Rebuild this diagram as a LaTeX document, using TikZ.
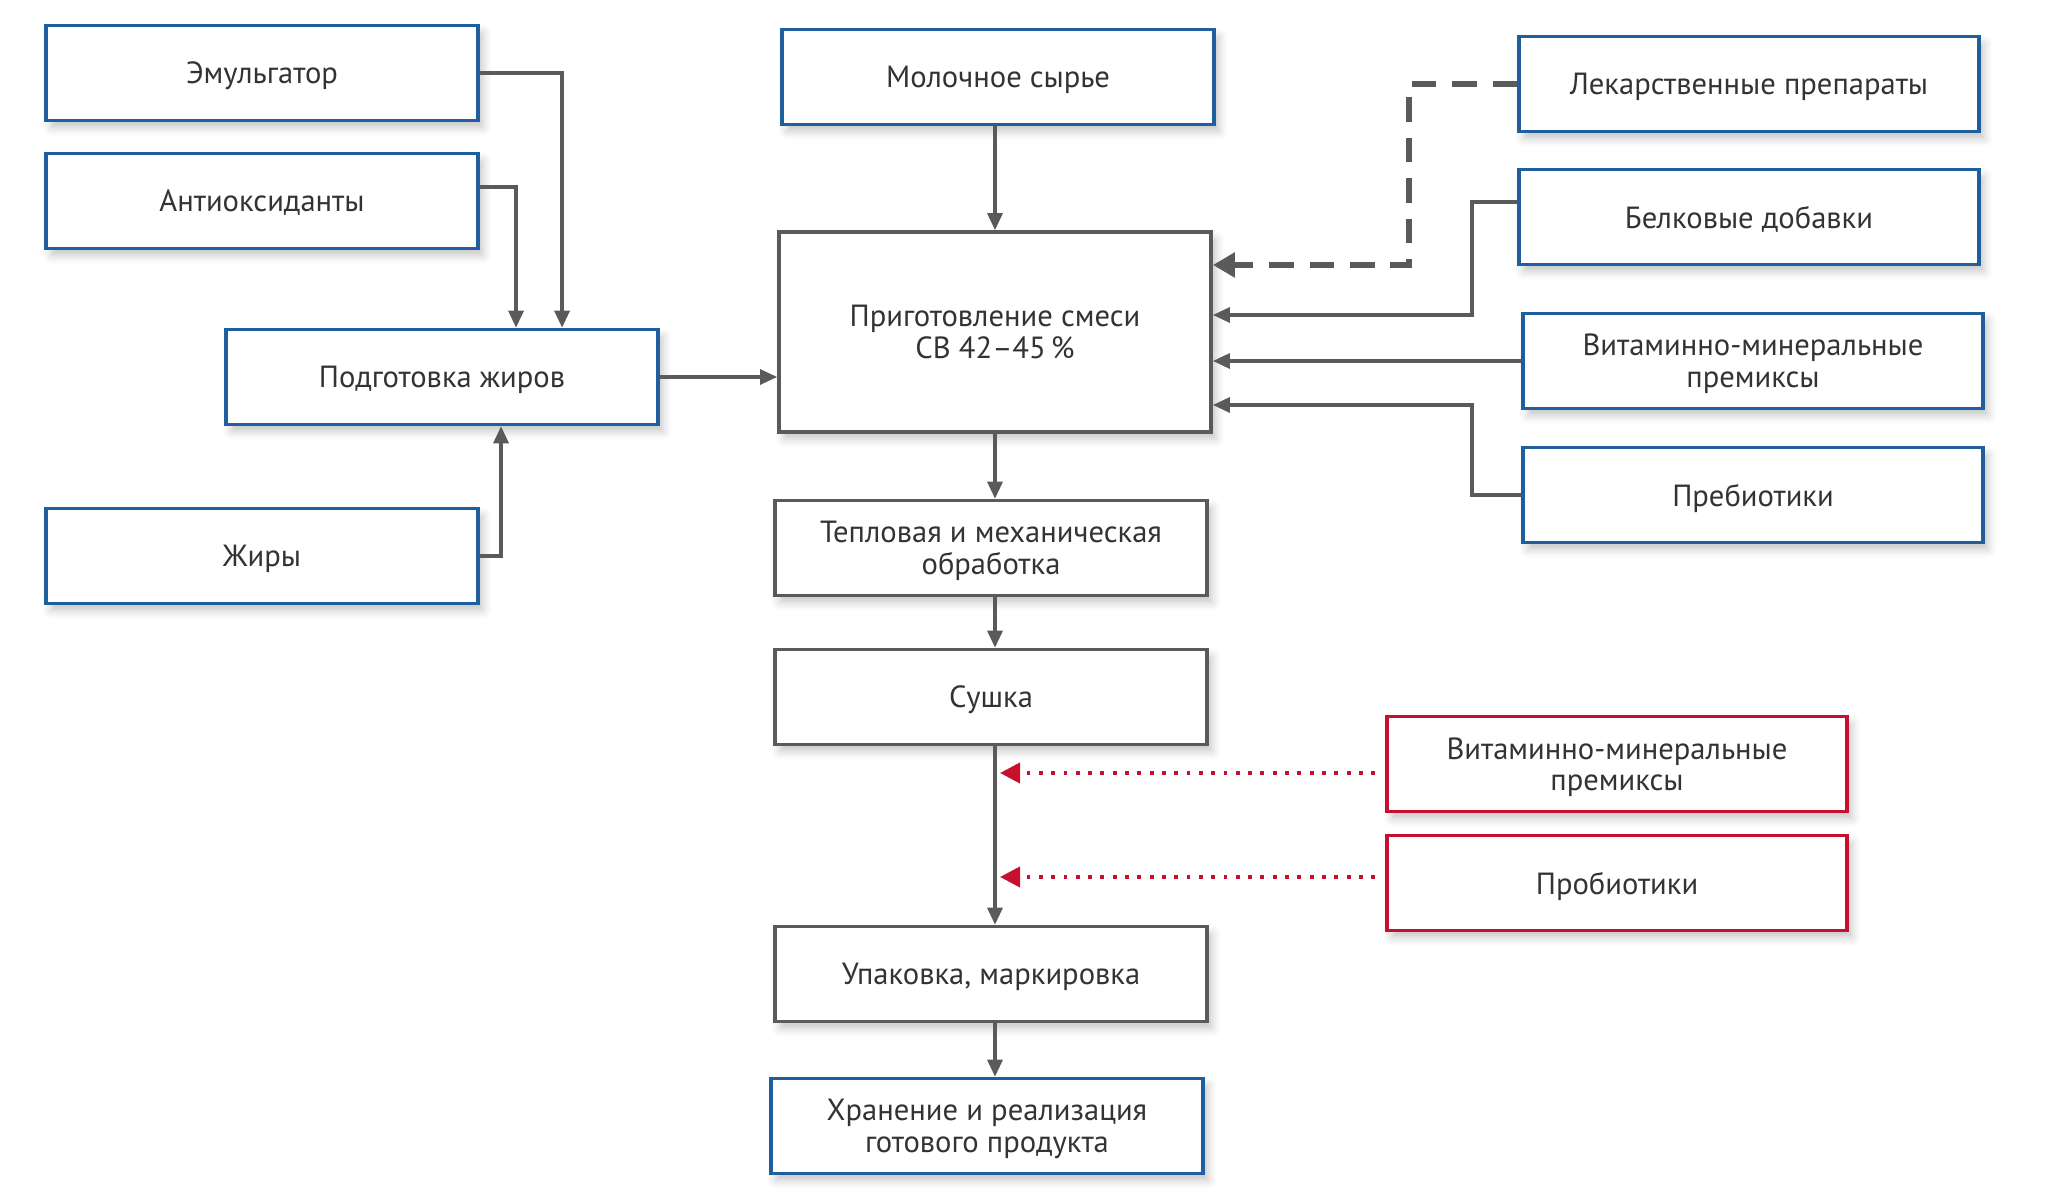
\documentclass[tikz,border=0pt]{standalone}
\usepackage{fontspec}
\setmainfont{PT Sans}
\usetikzlibrary{arrows.meta,shadows.blur}
\definecolor{boxblue}{HTML}{1F5F9E}
\definecolor{boxred}{HTML}{C8102E}
\definecolor{linegray}{HTML}{5A5A5A}
\definecolor{textgray}{HTML}{333333}
\tikzset{
  box/.style={draw=#1, line width=1pt, fill=white, minimum width=4.32cm, minimum height=0.95cm,
    align=center, text=textgray, font=\fontsize{8.7}{9}\selectfont, text depth=0pt,
    blur shadow={shadow xshift=0.05cm, shadow yshift=-0.07cm, shadow blur radius=0.08cm, shadow opacity=22}},
  box/.default=linegray,
  widebox/.style={box=#1, minimum width=4.6cm},
  arr/.style={draw=linegray, line width=0.9pt, -{Triangle[length=0.17cm,width=0.15cm]}},
  dasharr/.style={draw=linegray, line width=1.6pt, dash pattern=on 7pt off 4.5pt, -{Triangle[length=0.22cm,width=0.24cm]}},
  dotarr/.style={draw=boxred, line width=1.1pt, dash pattern=on 1.1pt off 2.4pt, -{Triangle[length=0.2cm,width=0.2cm]}}
}
\begin{document}
\begin{tikzpicture}[x=0.01cm, y=-0.01cm]
        \useasboundingbox (0,0) rectangle (2048,1198);

        % Fat preparation branch
        \node[box=boxblue] (emul) at (262,73) {Эмульгатор};
        \node[box=boxblue] (antiox) at (262,201) {Антиоксиданты};
        \node[box=boxblue] (fatprep) at (442,377) {Подготовка жиров};
        \node[box=boxblue] (fats) at (262,556) {Жиры};

        % Main process column
        \node[box=boxblue] (milk) at (998,77) {Молочное сырье};
        \node[box, minimum height=2cm] (mix) at (995,332) {Приготовление смеси\\СВ 42–45\,\%};
        \node[box] (heat) at (991,548) {Тепловая и механическая\\обработка};
        \node[box] (dry) at (991,697) {Сушка};
        \node[box] (pack) at (991,974) {Упаковка, маркировка};
        \node[box=boxblue] (store) at (987,1126) {Хранение и реализация\\готового продукта};
        \coordinate (col) at (995,0);

        % Additives to the mix
        \node[widebox=boxblue] (drugs) at (1749,84) {Лекарственные препараты};
        \node[widebox=boxblue] (prot) at (1749,217) {Белковые добавки};
        \node[widebox=boxblue] (vitmix) at (1753,361) {Витаминно-минеральные\\премиксы};
        \node[widebox=boxblue] (prebio) at (1753,495) {Пребиотики};

        % Additives after drying
        \node[widebox=boxred] (vitdry) at (1617,764) {Витаминно-минеральные\\премиксы};
        \node[widebox=boxred] (probio) at (1617,883) {Пробиотики};

        % Bend points
        \coordinate (dashbend) at (1409,265);
        \coordinate (protbend) at (1472,315);
        \coordinate (prebbend) at (1472,405);

        % Draw connections
        \draw[arr] (emul.east) -| ([xshift=1.2cm]fatprep.north);
        \draw[arr] ([yshift=0.14cm]antiox.east) -| ([xshift=0.74cm]fatprep.north);
        \draw[arr] (fats.east) -| ([xshift=0.59cm]fatprep.south);
        \draw[arr] (fatprep.east) -- (fatprep.east -| mix.west);
        \draw[arr] (col |- milk.south) -- (col |- mix.north);
        \draw[arr] (col |- mix.south) -- (col |- heat.north);
        \draw[arr] (col |- heat.south) -- (col |- dry.north);
        \draw[arr] (col |- dry.south) -- (col |- pack.north);
        \draw[arr] (col |- pack.south) -- (col |- store.north);

        \draw[dasharr] (drugs.west) -| (dashbend) -- (dashbend -| mix.east);
        \draw[arr] ([yshift=0.15cm]prot.west) -| (protbend) -- (protbend -| mix.east);
        \draw[arr] (vitmix.west) -- (vitmix.west -| mix.east);
        \draw[arr] (prebio.west) -| (prebbend) -- (prebbend -| mix.east);

        \draw[dotarr, shorten <=0.1cm] ([yshift=-0.09cm]vitdry.west) -- ([xshift=0.05cm,yshift=-0.09cm]col |- vitdry.west);
        \draw[dotarr, shorten <=0.1cm] ([yshift=0.06cm]probio.west) -- ([xshift=0.05cm,yshift=0.06cm]col |- probio.west);
    \end{tikzpicture}
\end{document}
